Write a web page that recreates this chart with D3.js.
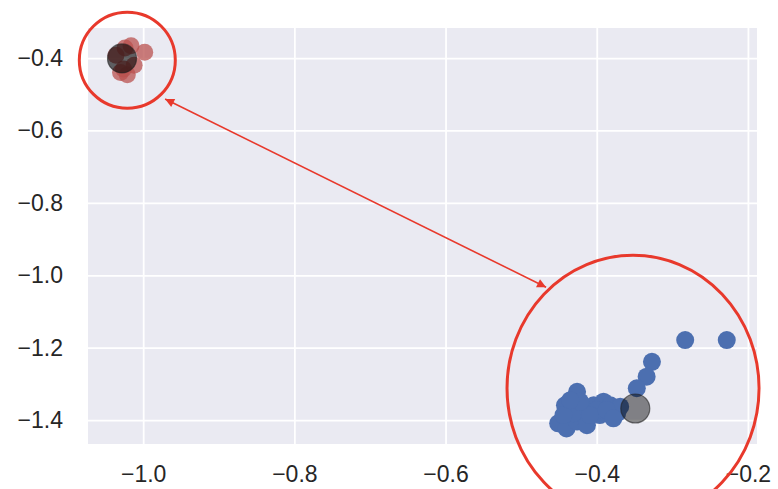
<!DOCTYPE html>
<html><head><meta charset="utf-8">
<script src="https://cdn.jsdelivr.net/npm/d3@7"></script>
<style>body{margin:0;background:#fff}svg{display:block}</style>
</head><body>
<script>
const xTicks = [-1.0, -0.8, -0.6, -0.4, -0.2];
const yTicks = [-0.4, -0.6, -0.8, -1.0, -1.2, -1.4];
const redX = [-1.024, -1.016, -0.998, -1.030, -1.021, -1.036, -1.012, -1.026];
const redY = [-0.372, -0.366, -0.384, -0.440, -0.446, -0.392, -0.420, -0.430];
const blueX = [-0.283, -0.228, -0.327, -0.334, -0.347, -0.426, -0.442, -0.451, -0.440, -0.426, -0.413, -0.418, -0.404, -0.391, -0.382, -0.373, -0.396, -0.431, -0.400, -0.369, -0.444, -0.409, -0.422, -0.387, -0.435, -0.378];
const blueY = [-1.179, -1.179, -1.239, -1.280, -1.312, -1.322, -1.359, -1.409, -1.423, -1.404, -1.414, -1.368, -1.359, -1.349, -1.359, -1.381, -1.386, -1.381, -1.372, -1.363, -1.386, -1.386, -1.349, -1.372, -1.345, -1.395];
const centerX = [-1.028, -0.349];
const centerY = [-0.401, -1.368];
const circleX = [-1.021, -0.352];
const circleY = [-0.406, -1.312];
const arrowX = [-0.971, -0.467];
const arrowY = [-0.513, -1.033];

const W = 778, H = 489;
const m = {left: 88, right: 21, top: 28, bottom: 45};
const x = d3.scaleLinear().domain([-1.073, -0.188]).range([m.left, W - m.right]);
const y = d3.scaleLinear().domain([-0.317, -1.466]).range([m.top, H - m.bottom]);

const svg = d3.select("body").append("svg").attr("width", W).attr("height", H);
svg.append("rect").attr("x", m.left).attr("y", m.top)
  .attr("width", W - m.right - m.left).attr("height", H - m.bottom - m.top).attr("fill", "#eaeaf2");

const font = "'Liberation Sans', Arial, sans-serif";
const fmt = d => d3.format(".1f")(d).replace("-", "\u2212");
const xAxis = svg.append("g").attr("transform", `translate(0,${H - m.bottom})`)
  .call(d3.axisBottom(x).tickValues(xTicks).tickSize(-(H - m.bottom - m.top)).tickPadding(22).tickFormat(fmt));
const yAxis = svg.append("g").attr("transform", `translate(${m.left},0)`)
  .call(d3.axisLeft(y).tickValues(yTicks).tickSize(-(W - m.right - m.left)).tickPadding(25).tickFormat(fmt));
[xAxis, yAxis].forEach(a => {
  a.select(".domain").remove();
  a.selectAll(".tick line").attr("stroke", "#ffffff").attr("stroke-width", 1.8);
  a.selectAll(".tick text").attr("fill", "#262626").attr("font-size", 23).attr("font-family", font);
});

const g = svg.append("g");
g.selectAll(".red").data(redX.map((v, i) => [v, redY[i]])).enter().append("circle")
  .attr("cx", d => x(d[0])).attr("cy", d => y(d[1])).attr("r", 8.5)
  .attr("fill", "#b9524f").attr("fill-opacity", 0.75);
g.selectAll(".blue").data(blueX.map((v, i) => [v, blueY[i]])).enter().append("circle")
  .attr("cx", d => x(d[0])).attr("cy", d => y(d[1])).attr("r", 9)
  .attr("fill", "#4c6fb0");
g.selectAll(".ctr").data(centerX.map((v, i) => [v, centerY[i]])).enter().append("circle")
  .attr("cx", d => x(d[0])).attr("cy", d => y(d[1])).attr("r", 14.5)
  .attr("fill", "#000").attr("fill-opacity", (d, i) => i === 0 ? 0.6 : 0.45)
  .attr("stroke", "#222").attr("stroke-opacity", 0.6).attr("stroke-width", 1.2);

const red = "#e8392c";
svg.append("ellipse").attr("cx", x(circleX[0])).attr("cy", y(circleY[0])).attr("rx", 48).attr("ry", 48)
  .attr("fill", "none").attr("stroke", red).attr("stroke-width", 3);
svg.append("ellipse").attr("cx", x(circleX[1])).attr("cy", y(circleY[1])).attr("rx", 126).attr("ry", 133)
  .attr("fill", "none").attr("stroke", red).attr("stroke-width", 3);

const defs = svg.append("defs");
defs.append("marker").attr("id", "ah").attr("viewBox", "0 0 10 10").attr("refX", 10).attr("refY", 5)
  .attr("markerWidth", 12).attr("markerHeight", 9).attr("markerUnits", "userSpaceOnUse").attr("orient", "auto-start-reverse")
  .append("path").attr("d", "M0,0L10,5L0,10z").attr("fill", red);
svg.append("line").attr("x1", x(arrowX[0])).attr("y1", y(arrowY[0])).attr("x2", x(arrowX[1])).attr("y2", y(arrowY[1]))
  .attr("stroke", red).attr("stroke-width", 1.6)
  .attr("marker-start", "url(#ah)").attr("marker-end", "url(#ah)");
</script>
</body></html>
